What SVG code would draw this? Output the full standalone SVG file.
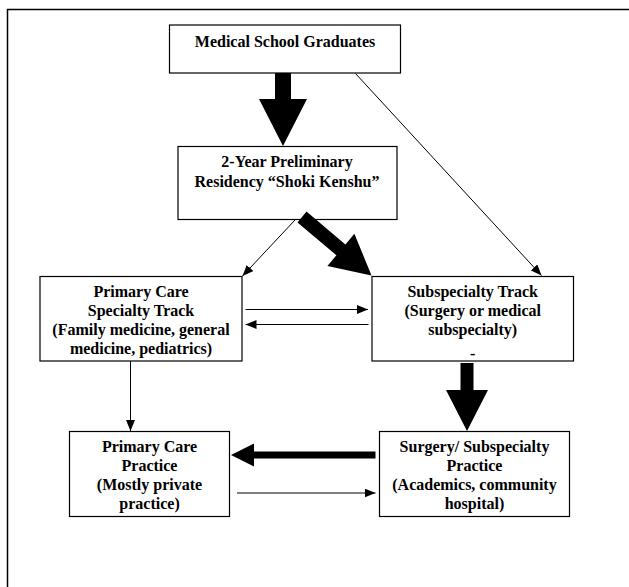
<svg xmlns="http://www.w3.org/2000/svg" width="629" height="587" viewBox="0 0 629 587">
<style>
.box{fill:#fff;stroke:#000;stroke-width:1.2}
.t{font-family:"Liberation Serif","Times New Roman",serif;font-weight:bold;font-size:16px;text-anchor:middle;fill:#000}
.thin{stroke:#000;stroke-width:1;fill:none;marker-end:url(#ah)}
.thick{fill:#000;stroke:none}
.frame{stroke:#000;stroke-width:1.5;fill:none}
</style>
<defs>
<marker id="ah" markerUnits="userSpaceOnUse" markerWidth="11" markerHeight="9" refX="11" refY="4.5" orient="auto">
<path d="M0,0 L11,4.5 L0,9 z" fill="#000"/>
</marker>
</defs>
<rect width="629" height="587" fill="#fff"/>
<path class="frame" d="M7.5,587 L7.5,9.5 L629,9.5"/>

<g id="medical-school-graduates">
<rect class="box" x="169.5" y="25" width="231" height="48"/>
<text class="t" x="285" y="47">Medical School Graduates</text>
</g>

<g id="preliminary-residency">
<rect class="box" x="178" y="146.5" width="219" height="73"/>
<text class="t" x="287" y="167">2-Year Preliminary</text>
<text class="t" x="287" y="186.5">Residency “Shoki Kenshu”</text>
</g>

<g id="primary-care-specialty-track">
<rect class="box" x="40" y="276.5" width="202" height="84.5"/>
<text class="t" x="141" y="296.5">Primary Care</text>
<text class="t" x="141" y="315.5">Specialty Track</text>
<text class="t" x="141" y="334.5">(Family medicine, general</text>
<text class="t" x="141" y="353.5">medicine, pediatrics)</text>
</g>

<g id="subspecialty-track">
<rect class="box" x="372" y="276.5" width="201.5" height="84.5"/>
<text class="t" x="472.75" y="296.5">Subspecialty Track</text>
<text class="t" x="472.75" y="315.5">(Surgery or medical</text>
<text class="t" x="472.75" y="334.5">subspecialty)</text>
<text class="t" x="472.75" y="359">-</text>
</g>

<g id="primary-care-practice">
<rect class="box" x="69.5" y="431.5" width="160" height="85"/>
<text class="t" x="149.5" y="451.5">Primary Care</text>
<text class="t" x="149.5" y="470.5">Practice</text>
<text class="t" x="149.5" y="489.5">(Mostly private</text>
<text class="t" x="149.5" y="508.5">practice)</text>
</g>

<g id="surgery-subspecialty-practice">
<rect class="box" x="379.5" y="431.5" width="190" height="85"/>
<text class="t" x="474.5" y="451.5">Surgery/ Subspecialty</text>
<text class="t" x="474.5" y="470.5">Practice</text>
<text class="t" x="474.5" y="489.5">(Academics, community</text>
<text class="t" x="474.5" y="508.5">hospital)</text>
</g>

<g id="connectors">
<polygon class="thick" points="275,73 291,73 291,99 307,99 283,146 259,99 275,99"/>
<polygon class="thick" points="306.5,211.6 345.4,244.4 354.4,233.7 371.5,275.5 327.4,265.9 336.4,255.2 297.5,222.4"/>
<polygon class="thick" points="460.5,363 473.5,363 473.5,390 488,390 467,431 446,390 460.5,390"/>
<polygon class="thick" points="375.5,451.5 254,451.5 254,443.5 231,455 254,466.5 254,458.5 375.5,458.5"/>
<line class="thin" x1="355.5" y1="73.5" x2="541.5" y2="275.5"/>
<line class="thin" x1="295" y1="220" x2="242.5" y2="276"/>
<line class="thin" x1="245.5" y1="309.5" x2="368" y2="309.5"/>
<line class="thin" x1="368.5" y1="324.5" x2="245.5" y2="324.5"/>
<line class="thin" x1="130.5" y1="361" x2="130.5" y2="431"/>
<line class="thin" x1="237" y1="493" x2="375.5" y2="493"/>
</g>
</svg>
